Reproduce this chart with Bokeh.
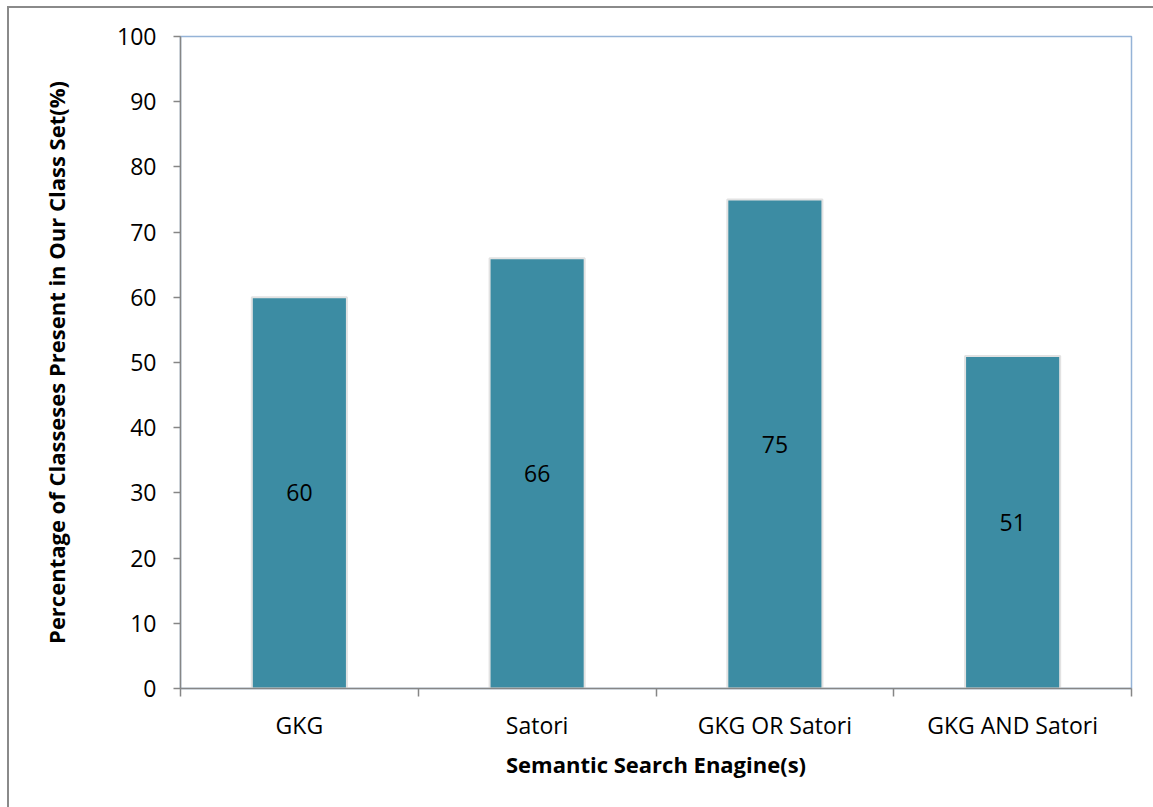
from bokeh.plotting import figure
from bokeh.models import Range1d, LinearAxis, FixedTicker, ColumnDataSource
from bokeh.core.properties import value
from bokeh.embed import file_html
from bokeh.resources import INLINE

categories = ["GKG", "Satori", "GKG OR Satori", "GKG AND Satori"]
percentages = [60, 66, 75, 51]
y_ticks = [0, 10, 20, 30, 40, 50, 60, 70, 80, 90, 100]

FONT = "Open Sans"
n = len(categories)
centers = [i + 0.5 for i in range(n)]
src = ColumnDataSource(dict(
    x=centers, top=percentages, mid=[v / 2 for v in percentages],
    lbl=[str(v) for v in percentages]))

p = figure(width=1146, height=801, output_backend="svg", toolbar_location=None,
           x_range=Range1d(0, n), y_range=Range1d(0, 100),
           x_axis_type=None, y_axis_type=None,
           min_border_left=171, min_border_top=28, min_border_right=24, min_border_bottom=121)
p.styles = {"position": "absolute", "left": "7px", "top": "6px",
            "border-left": "2px solid #8a8a8a", "border-top": "2px solid #8a8a8a"}
p.outline_line_color = "#95B3D7"
p.outline_line_width = 1.5
p.xgrid.visible = False
p.ygrid.visible = False

p.vbar(x="x", top="top", width=0.4, bottom=0, source=src, fill_color="#3C8CA3",
       line_color="#e2e2e2", line_width=2)
p.text(x="x", y="mid", text="lbl", source=src, text_align="center", text_baseline="middle",
       text_font=value(FONT), text_font_size="23px", text_color="black")

yax = LinearAxis(ticker=FixedTicker(ticks=y_ticks))
yax.axis_line_color = "#868686"
yax.axis_line_width = 1.5
yax.major_tick_line_color = "#868686"
yax.major_tick_line_width = 1.5
yax.major_tick_in = 0
yax.major_tick_out = 7
yax.minor_tick_line_color = None
yax.major_label_text_font = FONT
yax.major_label_text_font_size = "23px"
yax.major_label_text_color = "black"
yax.major_label_standoff = 17
yax.axis_label = "Percentage of Classeses Present in Our Class Set(%)"
yax.axis_label_text_font = FONT
yax.axis_label_text_font_style = "bold"
yax.axis_label_text_font_size = "22px"
yax.axis_label_text_color = "black"
yax.axis_label_standoff = 43
p.add_layout(yax, "left")

bax = LinearAxis(ticker=FixedTicker(ticks=list(range(n + 1))),
                 major_label_overrides={i: "" for i in range(n + 1)})
bax.axis_line_color = "#868686"
bax.axis_line_width = 1.5
bax.major_tick_line_color = "#868686"
bax.major_tick_line_width = 1.5
bax.major_tick_in = 0
bax.major_tick_out = 8
bax.minor_tick_line_color = None
bax.major_label_text_font_size = "1px"
bax.major_label_standoff = 0
p.add_layout(bax, "below")

cax = LinearAxis(ticker=FixedTicker(ticks=centers),
                 major_label_overrides={c: cat for c, cat in zip(centers, categories)})
cax.axis_line_color = None
cax.major_tick_line_color = None
cax.minor_tick_line_color = None
cax.major_label_text_font = FONT
cax.major_label_text_font_size = "23px"
cax.major_label_text_color = "black"
cax.major_label_standoff = 6
cax.axis_label = "Semantic Search Enagine(s)"
cax.axis_label_text_font = FONT
cax.axis_label_text_font_style = "bold"
cax.axis_label_text_font_size = "22px"
cax.axis_label_text_color = "black"
cax.axis_label_standoff = 5
p.add_layout(cax, "below")

open("out.html", "w").write(file_html(p, INLINE))
